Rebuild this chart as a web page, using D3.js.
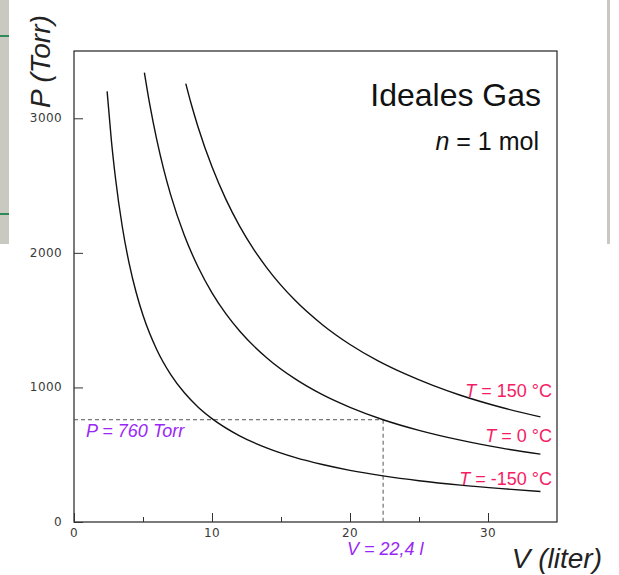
<!DOCTYPE html>
<html lang="de">
<head>
<meta charset="UTF-8">
<title>Ideales Gas</title>
<script src="https://d3js.org/d3.v7.min.js"></script>
<style>
  body { margin: 0; background: #fff; }
  svg text { font-family: "Liberation Sans", Arial, sans-serif; }
  svg text.tick-label { font-family: "DejaVu Sans", sans-serif; font-size: 12px; letter-spacing: 0.4px; fill: #3a3a3a; }
</style>
</head>
<body>
<div id="chart"></div>
<script>
// isotherms: [V in liter, P in Torr]
var isoMinus150 = [[2.4,3200],[2.7,2844],[3,2560],[3.5,2194],[4,1920],[4.5,1707],[5,1536],[6,1280],[7,1097],[8,960],[9,853],[10,768],[12,640],[14,549],[16,480],[18,427],[20,384],[22.4,343],[25,307],[28,274],[31,248],[33.8,227]];
var iso0 = [[5.1,3340],[5.5,3097],[6,2839],[6.5,2620],[7,2433],[8,2129],[9,1893],[10,1703],[11,1548],[12,1419],[14,1217],[16,1065],[18,946],[20,852],[22.4,760],[25,681],[28,608],[31,549],[33.8,504]];
var iso150 = [[8.1,3258],[8.5,3104],[9,2932],[10,2639],[11,2399],[12,2199],[13,2030],[14,1885],[16,1649],[18,1466],[20,1319],[22,1199],[24,1100],[26,1015],[28,942],[31,851],[33.8,781]];

var curveLabels = ["T = 150 °C", "T = 0 °C", "T = -150 °C"];
var xTicks = [0, 10, 20, 30];
var xMinorTicks = [5, 15, 25];
var yTicks = [0, 1000, 2000, 3000];
var markV = 22.4, markP = 760;

var margin = {top: 51, right: 62, bottom: 53, left: 74},
    width = 619 - margin.left - margin.right,
    height = 575 - margin.top - margin.bottom;

var svgRoot = d3.select("#chart").append("svg")
    .attr("width", 619).attr("height", 575);

// bits of the slide behind the chart
svgRoot.append("rect").attr("x", 0).attr("y", 0).attr("width", 9).attr("height", 244).attr("fill", "#c9c9c1");
svgRoot.append("rect").attr("x", 0).attr("y", 35).attr("width", 9).attr("height", 2).attr("fill", "#2e8b57");
svgRoot.append("rect").attr("x", 0).attr("y", 213).attr("width", 9).attr("height", 2).attr("fill", "#2e8b57");
svgRoot.append("rect").attr("x", 607).attr("y", 0).attr("width", 3).attr("height", 244).attr("fill", "#c9c9c1");

var svg = svgRoot.append("g")
    .attr("transform", "translate(" + margin.left + "," + margin.top + ")");

var x = d3.scaleLinear().domain([0, 35]).range([0, width]);
var y = d3.scaleLinear().domain([0, 3500]).range([height, 0]);

// frame
svg.append("rect")
    .attr("width", width).attr("height", height)
    .attr("fill", "none").attr("stroke", "#222").attr("stroke-width", 1.2);

// x axis (ticks inside)
var xAxis = svg.append("g").attr("transform", "translate(0," + height + ")")
    .call(d3.axisTop(x).tickValues(xTicks).tickSize(9).tickFormat(""));
xAxis.select(".domain").remove();
xAxis.selectAll("line").attr("stroke", "#333");
svg.append("g").attr("transform", "translate(0," + height + ")")
    .call(d3.axisTop(x).tickValues(xMinorTicks).tickSize(5).tickFormat(""))
    .call(function(g) { g.select(".domain").remove(); g.selectAll("line").attr("stroke", "#333"); });
svg.selectAll(".xlab").data(xTicks).enter().append("text")
    .attr("class", "tick-label")
    .attr("x", function(d) { return x(d); })
    .attr("y", height + 15)
    .attr("text-anchor", "middle")
    .text(function(d) { return d; });

// y axis (ticks inside)
var yAxis = svg.append("g")
    .call(d3.axisRight(y).tickValues(yTicks).tickSize(9).tickFormat(""));
yAxis.select(".domain").remove();
yAxis.selectAll("line").attr("stroke", "#333");
svg.selectAll(".ylab").data(yTicks).enter().append("text")
    .attr("class", "tick-label")
    .attr("x", -12)
    .attr("y", function(d) { return y(d) + 4; })
    .attr("text-anchor", "end")
    .text(function(d) { return d; });

// dashed guide lines
svg.append("line")
    .attr("x1", x(0)).attr("x2", x(markV))
    .attr("y1", y(markP)).attr("y2", y(markP))
    .attr("stroke", "#555").attr("stroke-dasharray", "4,3");
svg.append("line")
    .attr("x1", x(markV)).attr("x2", x(markV))
    .attr("y1", y(markP)).attr("y2", y(0))
    .attr("stroke", "#555").attr("stroke-dasharray", "4,3");

// isotherms
var line = d3.line()
    .x(function(d) { return x(d[0]); })
    .y(function(d) { return y(d[1]); })
    .curve(d3.curveMonotoneX);
[isoMinus150, iso0, iso150].forEach(function(s) {
  svg.append("path").datum(s)
      .attr("d", line)
      .attr("fill", "none").attr("stroke", "#111").attr("stroke-width", 1.4);
});

// curve labels
var labelY = [345.7, 390.7, 434];
curveLabels.forEach(function(t, i) {
  var parts = t.split(" = ");
  var txt = svg.append("text")
      .attr("x", 478).attr("y", labelY[i])
      .attr("text-anchor", "end")
      .style("font-size", "18px").attr("fill", "#f51c64");
  txt.append("tspan").style("font-style", "italic").text(parts[0]);
  txt.append("tspan").text(" = " + parts[1]);
});

// purple annotations
svg.append("text")
    .attr("x", 12).attr("y", 386)
    .style("font-size", "18px").style("font-style", "italic")
    .attr("fill", "#9a28f5")
    .text("P = 760 Torr");
svg.append("text")
    .attr("x", 273).attr("y", 504)
    .style("font-size", "18px").style("font-style", "italic")
    .attr("fill", "#9a28f5")
    .text("V = 22,4 l");

// title
svg.append("text")
    .attr("x", 467).attr("y", 55)
    .attr("text-anchor", "end")
    .style("font-size", "32px").attr("fill", "#111")
    .text("Ideales Gas");
var sub = svg.append("text")
    .attr("x", 465).attr("y", 99)
    .attr("text-anchor", "end")
    .style("font-size", "25px").attr("fill", "#111");
sub.append("tspan").style("font-style", "italic").text("n");
sub.append("tspan").text(" = 1 mol");

// axis titles
svgRoot.append("text")
    .attr("transform", "translate(50,108) rotate(-90)")
    .attr("text-anchor", "start")
    .style("font-size", "28px").style("font-style", "italic").attr("fill", "#222")
    .text("P (Torr)");
svgRoot.append("text")
    .attr("x", 602).attr("y", 568)
    .attr("text-anchor", "end")
    .style("font-size", "28px").style("font-style", "italic").attr("fill", "#222")
    .text("V (liter)");
</script>
</body>
</html>
